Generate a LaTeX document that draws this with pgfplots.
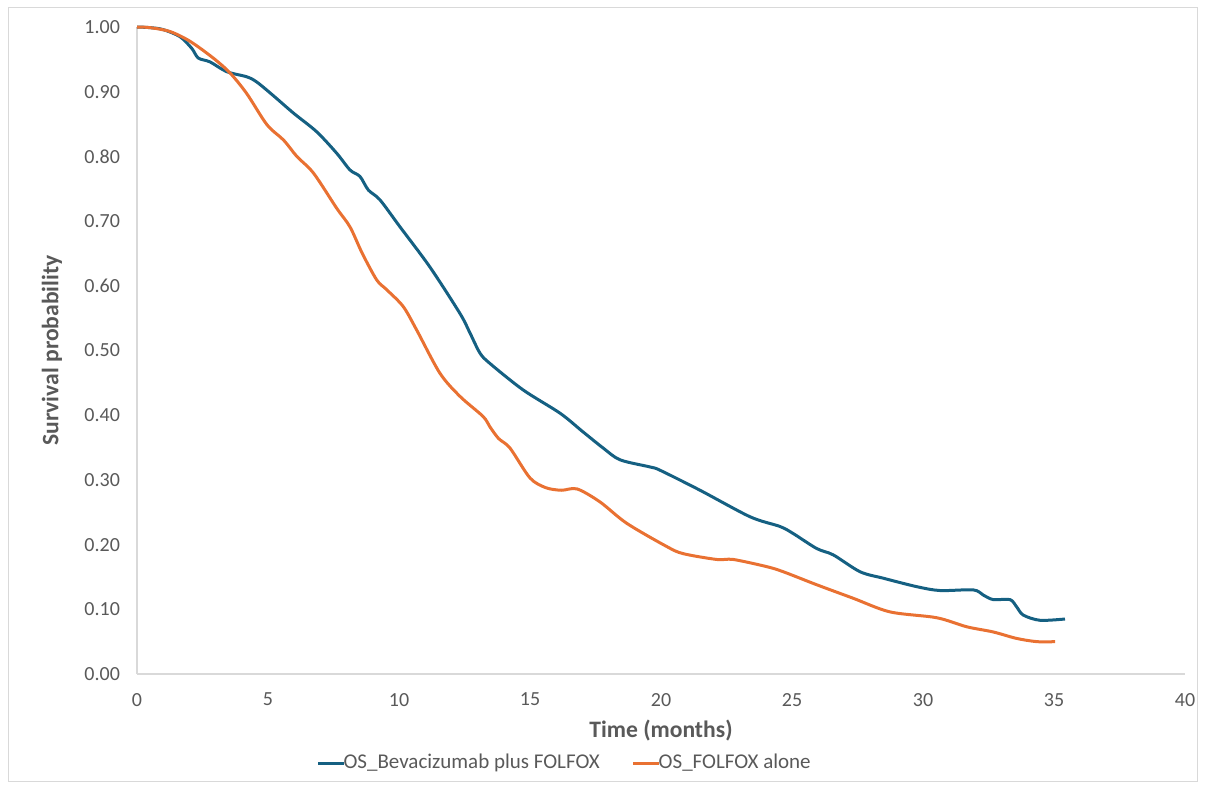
\documentclass[border=0pt]{standalone}
\usepackage{pgfplots}
\pgfplotsset{compat=1.18}
\usepackage{fontspec}
\setmainfont{Carlito}
\definecolor{bevblue}{HTML}{156082}
\definecolor{folorange}{HTML}{E97132}
\definecolor{txtgray}{HTML}{595959}
\definecolor{axgray}{HTML}{D9D9D9}
\begin{document}
\begin{tikzpicture}[x=0.5pt,y=0.5pt]
\useasboundingbox (0,0) rectangle (1205,789);
\draw[axgray, line width=0.5pt] (8,8) rectangle (1197,781);
\begin{axis}[
  at={(137*0.5pt,115*0.5pt)}, anchor=south west,
  scale only axis, width=524pt, height=323.5pt,
  xmin=0, xmax=40, ymin=0, ymax=1,
  axis lines*=left,
  axis line style={axgray, line width=0.6pt, -},
  xtick={0,5,...,40}, ytick={0,0.1,...,1.01},
  major tick length=0pt,
  tick label style={font=\fontsize{10}{12}\selectfont, text=txtgray},
  /pgf/number format/assume math mode=true,
  yticklabel={\pgfmathprintnumber[fixed,fixed zerofill,precision=2]{\tick}},
  xticklabel style={yshift=-6pt},
  yticklabel style={xshift=-5pt},
  xlabel={\bfseries Time (months)},
  ylabel={\bfseries Survival probability},
  label style={font=\fontsize{11.8}{14}\selectfont, text=txtgray},
  xlabel style={at={(axis description cs:0.5,-0.0866)}, anchor=center},
  ylabel style={at={(axis description cs:-0.0811,0.5)}, anchor=center},
  legend style={at={(0.409,-0.1376)}, anchor=center, draw=none, fill=none,
    font=\fontsize{10.5}{12}\selectfont, text=txtgray,
    legend columns=2, /tikz/every even column/.append style={column sep=14pt},
    /tikz/every odd column/.append style={column sep=-3pt}},
  legend image code/.code={\draw[#1, line width=1.5pt] (0pt,0pt) -- (13pt,0pt);},
  clip=false,
]
\addplot[bevblue, line width=1.5pt, smooth, tension=0.5] coordinates {
(0,1.000) (0.5,0.999) (1.0,0.996) (1.64,0.985) (2.09,0.967) (2.34,0.952) (2.79,0.946)
(3.42,0.931) (4.19,0.923) (4.57,0.915) (5.2,0.894) (5.97,0.867) (6.86,0.838) (7.62,0.805)
(8.13,0.779) (8.51,0.769) (8.83,0.748) (9.27,0.733) (10.04,0.691) (11.18,0.629) (12.33,0.557)
(12.71,0.527) (13.09,0.496) (13.47,0.480) (14.74,0.439) (16.15,0.403) (17.0,0.375) (17.8,0.349)
(18.44,0.331) (19.58,0.320) (19.96,0.315) (21.49,0.284) (23.4,0.243) (24.54,0.228) (25.05,0.217)
(25.94,0.194) (26.58,0.184) (27.6,0.158) (28.49,0.148) (29.76,0.135) (30.65,0.129) (31.92,0.130)
(32.3,0.122) (32.68,0.115) (33.32,0.115) (33.57,0.104) (33.83,0.091) (34.47,0.083) (35.42,0.085)
};
\addlegendentry{OS\_Bevacizumab plus FOLFOX}
\addplot[folorange, line width=1.5pt, smooth, tension=0.5] coordinates {
(0,1.000) (0.5,0.999) (1.26,0.993) (2.02,0.978) (2.91,0.952) (3.55,0.929) (4.19,0.897)
(4.96,0.849) (5.60,0.825) (6.10,0.800) (6.74,0.774) (7.62,0.720) (8.13,0.691) (8.6,0.650)
(9.15,0.609) (9.53,0.594) (10.16,0.568) (10.67,0.532) (11.56,0.465) (12.33,0.429) (13.21,0.398)
(13.47,0.382) (13.80,0.364) (14.24,0.349) (15.0,0.303) (15.6,0.288) (16.2,0.284) (16.8,0.286)
(17.67,0.266) (18.69,0.233) (20.22,0.197) (20.85,0.186) (22.13,0.177) (22.76,0.177) (24.03,0.166)
(24.67,0.158) (25.94,0.138) (27.34,0.117) (28.74,0.096) (30.52,0.087) (31.67,0.073) (32.68,0.065)
(33.57,0.055) (34.35,0.050) (35.04,0.050)
};
\addlegendentry{OS\_FOLFOX alone}
\end{axis}
\end{tikzpicture}
\end{document}
